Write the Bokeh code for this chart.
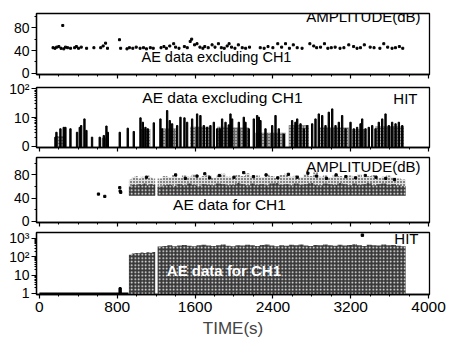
from bokeh.embed import file_html
from bokeh.layouts import column
from bokeh.models import FixedTicker, Label, Range1d, SingleIntervalTicker
from bokeh.plotting import figure
from bokeh.resources import INLINE

FONT = "Liberation Sans"

# ---- AE data excluding CH1: amplitude (dB) of individual hits ----
ex_amp_t = [240,
            140, 160, 178, 200, 222, 250, 268, 290, 320, 362, 380, 402, 430, 485, 560,
            630, 655, 680, 700,
            823, 835, 900, 925, 960, 995, 1035, 1070, 1100, 1140, 1170,
            1250, 1280, 1305, 1340, 1380, 1400, 1435, 1490, 1520, 1550, 1565, 1595,
            1620, 1650, 1680, 1700, 1735, 1775, 1805, 1840, 1870, 1900, 1930,
            1950, 1975, 2010, 2045, 2085, 2120, 2160, 2270, 2310, 2350, 2400, 2450,
            2490, 2530, 2570, 2610, 2650, 2700,
            2780, 2820, 2850, 2890, 2930, 2965, 3000, 3040, 3090, 3130, 3180, 3230,
            3265, 3300, 3340, 3400, 3440, 3500, 3540, 3580, 3625, 3660, 3700, 3735]
ex_amp_db = [84,
             45, 44, 46, 47, 44, 43, 46, 45, 44, 45, 47, 44, 46, 44, 45,
             45, 48, 53, 44,
             59, 44, 43, 45, 44, 46, 44, 45, 43, 45, 44,
             45, 47, 44, 48, 52, 46, 44, 47, 45, 56, 60, 50,
             52, 46, 44, 47, 45, 50, 46, 52, 45, 44, 48,
             52, 46, 44, 50, 45, 44, 46, 45, 44, 47, 45, 52,
             46, 52, 44, 50, 45, 44,
             52, 48, 45, 46, 52, 44, 45, 46, 44, 45, 50, 47,
             44, 45, 50, 46, 45, 44, 52, 46, 44, 45, 47, 44]

# ---- AE data excluding CH1: hit counts ----
ex_hit_t = [165, 175, 216, 250, 267, 319, 387, 415, 429, 463, 483, 541, 620, 662,
            689, 703, 826, 908, 970, 1039, 1063, 1090, 1114, 1176, 1244, 1261, 1313,
            1340, 1364, 1416, 1450, 1491, 1518, 1570, 1621, 1655, 1690, 1724, 1758,
            1793, 1827, 1854, 1878, 1913, 1947, 1964, 1981, 2050, 2101, 2118, 2152,
            2204, 2238, 2255, 2272, 2324, 2393, 2427, 2461, 2512, 2598, 2632, 2650,
            2684, 2718, 2752, 2804, 2838, 2872, 2907, 2941, 2975, 3010, 3044, 3078,
            3112, 3147, 3198, 3232, 3266, 3301, 3318, 3352, 3386, 3421, 3455, 3489,
            3524, 3558, 3592, 3626, 3661, 3695, 3730]
ex_hit_n = [2.1, 3.1, 4.1, 4.6, 4.6, 4.1, 3.1, 4.6, 5.3, 9.0, 3.6, 2.1, 2.1, 2.4,
            5.1, 3.1, 3.1, 4.3, 3.3, 9.8, 6.9, 4.6, 4.1, 6.6, 9.0, 4.1, 17.5,
            7.9, 6.1, 5.3, 10.3, 9.8, 6.9, 9.0, 13.4, 11.8, 5.3, 4.6, 5.3,
            6.9, 4.1, 4.1, 9.0, 6.9, 5.6, 13.4, 9.0, 6.9, 10.3, 6.9, 4.1,
            9.0, 11.8, 10.3, 7.9, 4.1, 5.3, 11.8, 4.1, 2.7, 7.9, 6.9, 9.0,
            6.1, 4.1, 5.3, 6.1, 9.0, 13.4, 11.8, 5.3, 15.4, 20.0, 5.3, 6.9,
            11.8, 4.1, 6.9, 4.1, 4.6, 6.1, 9.0, 4.1, 4.6, 5.3, 4.1, 6.9,
            9.0, 13.4, 5.3, 6.9, 6.1, 6.9, 5.3]
# dense stretches of low-count hits
ex_cloud_start = [165, 640, 1039, 1260, 1550, 1827, 1913, 2220, 2563, 2872, 3215, 3455]
ex_cloud_end = [267, 710, 1140, 1416, 1760, 1913, 2152, 2530, 2770, 3180, 3352, 3747]
ex_cloud_n = [2.3, 2.0, 4.0, 4.2, 4.8, 4.8, 4.5, 3.0, 5.4, 4.5, 4.0, 5.0]

# ---- AE data for CH1 (binned) ----
ch1_t1 = [935, 965, 995, 1025, 1055, 1085, 1115, 1145, 1175]
ch1_t2 = [1240, 1290, 1340, 1390, 1440, 1490, 1540, 1590, 1640, 1690, 1740, 1790,
          1840, 1890, 1940, 1990, 2040, 2090, 2140, 2190, 2240, 2290, 2340, 2390,
          2440, 2490, 2540, 2590, 2640, 2690, 2740, 2790, 2840, 2890, 2940, 2990,
          3040, 3090, 3140, 3190, 3240, 3290, 3340, 3390, 3440, 3490, 3540, 3590,
          3640, 3690, 3740]
ch1_hit1 = [130, 150, 160, 155, 170, 160, 175, 165, 180]
ch1_hit2 = [360, 390, 420, 380, 410, 440, 400, 370, 430, 450,
            410, 390, 420, 460, 400, 380, 430, 410, 450, 420,
            390, 440, 470, 410, 380, 430, 400, 450, 420, 460,
            410, 390, 440, 420, 470, 430, 400, 450, 410, 440,
            480, 420, 390, 450, 430, 410, 460, 420, 440, 400, 380]
ch1_amp_low = 44
ch1_dense1 = [60, 63, 62, 64, 63, 65, 62, 64, 63]
ch1_dense2 = [60, 62, 63, 61, 64, 62, 65, 63, 61, 64,
              63, 62, 65, 64, 62, 63, 66, 64, 62, 65,
              63, 64, 62, 65, 66, 63, 64, 62, 65, 63,
              64, 66, 63, 62, 65, 64, 63, 66, 64, 62,
              65, 63, 64, 66, 62, 64, 65, 63, 64, 62, 61]
ch1_sparse1 = [72, 76, 78, 74, 77, 75, 79, 76, 74]
ch1_sparse2 = [74, 78, 76, 80, 75, 79, 77, 81, 76, 78,
               80, 75, 79, 82, 77, 76, 80, 78, 83, 77,
               79, 76, 81, 78, 75, 80, 82, 77, 79, 76,
               81, 78, 84, 77, 79, 76, 80, 78, 75, 79,
               77, 81, 76, 78, 80, 75, 77, 79, 76, 74, 72]
ch1_pts_t = [607, 672, 826, 830, 836, 1100, 1400, 1500, 1620, 1700, 1750, 1850, 2000,
             2100, 2200, 2330, 2450, 2560, 2650, 2760, 2850, 2950, 3050, 3150, 3250,
             3350, 3460, 3560, 3650]
ch1_pts_db = [47, 43, 58, 52, 50, 76, 80, 74, 78, 82, 75, 79, 76,
              84, 77, 80, 75, 81, 76, 83, 78, 74, 80, 77, 75,
              79, 76, 74, 72]
ch1_pre_t = [0, 150, 300, 450, 600, 750, 815, 830, 845, 915]
ch1_pre_n = [1, 1, 1, 1, 1, 1, 1, 2, 1, 1]
ch1_stray_t = [3320]
ch1_stray_n = [1500]

BIN1, BIN2 = 30, 50
DARK = "#383838"

x_range = Range1d(-30, 4010)


def step_edges(centers, vals, width):
    xs = [c - width / 2 for c in centers] + [centers[-1] + width / 2]
    ys = list(vals) + [vals[-1]]
    return xs, ys


def make_panel(height, top, bottom, y_range, y_type="linear", last=False):
    p = figure(width=449, height=height, x_range=x_range, y_range=Range1d(*y_range),
               y_axis_type=y_type, output_backend="svg", toolbar_location=None,
               min_border_left=36, min_border_right=20,
               min_border_top=top, min_border_bottom=bottom)
    p.grid.visible = False
    p.outline_line_color = "black"
    p.outline_line_width = 1.3
    p.xaxis.ticker = SingleIntervalTicker(interval=800, num_minor_ticks=4)
    for ax in p.xaxis + p.yaxis:
        ax.axis_line_color = "black"
        ax.axis_line_width = 1.3
        ax.major_tick_line_width = 1.2
        ax.major_tick_in = 0
        ax.minor_tick_in = 0
        ax.major_label_text_font = FONT
        ax.major_label_text_color = "black"
    p.xaxis.major_tick_out = 4
    p.xaxis.minor_tick_out = 2
    p.yaxis.major_tick_out = 5
    p.yaxis.minor_tick_out = 2
    p.yaxis.major_label_standoff = 2
    p.yaxis.major_label_text_font_size = "14px"
    if last:
        p.xaxis.major_label_text_font_size = "15.5px"
        p.xaxis.major_label_standoff = 3
        p.xaxis.axis_label = "TIME(s)"
        p.xaxis.axis_label_text_font = FONT
        p.xaxis.axis_label_text_font_style = "normal"
        p.xaxis.axis_label_text_font_size = "17px"
        p.xaxis.axis_label_standoff = 4
    else:
        # tick marks only, the time labels sit on the bottom panel
        p.xaxis.major_label_text_color = None
        p.xaxis.major_label_text_font_size = "1px"
        p.xaxis.major_label_standoff = 0
    return p


def add_label(p, x, y, text, align="center", size="15px", color="black", style="normal"):
    p.add_layout(Label(x=x, y=y, text=text, text_align=align, text_baseline="middle",
                       text_font=FONT, text_font_size=size, text_color=color,
                       text_font_style=style))


# Panel 1: amplitude, excluding CH1
p1 = make_panel(80, 13, 6, (-2, 105))
p1.yaxis.ticker = FixedTicker(ticks=[0, 40, 80], minor_ticks=[20, 60, 100])
p1.scatter(ex_amp_t, ex_amp_db, marker="square", size=2.0, color="black")
add_label(p1, 3918, 100, "AMPLITUDE(dB)", align="right")
add_label(p1, 1820, 28, "AE data excluding CH1", size="14.5px")

# Panel 2: hit counts, excluding CH1
p2 = make_panel(73, 7, 6, (0.92, 110), y_type="log")
p2.yaxis.ticker = FixedTicker(ticks=[1, 10, 100],
                              minor_ticks=[2, 3, 4, 5, 6, 7, 8, 9, 20, 30, 40, 50, 60, 70, 80, 90])
p2.yaxis.major_label_overrides = {1: "0", 10: "10", 100: "10²"}
p2.quad(left=ex_cloud_start, right=ex_cloud_end, bottom=0.92, top=ex_cloud_n,
        fill_color="#6a6a6a", line_color=None,
        hatch_pattern="dot", hatch_color="white", hatch_scale=3, hatch_weight=1.2)
p2.vbar(x=ex_hit_t, top=ex_hit_n, bottom=0.92, width=14, color="black")
add_label(p2, 1882, 49, "AE data excluding CH1", size="15.5px")
add_label(p2, 3887, 46, "HIT", align="right")

# Panel 3: amplitude, CH1
p3 = make_panel(75, 4, 6, (-2, 110))
p3.yaxis.ticker = FixedTicker(ticks=[0, 40, 80], minor_ticks=[20, 60, 100])
for cs, sparse, dense, w in ((ch1_t1, ch1_sparse1, ch1_dense1, BIN1),
                             (ch1_t2, ch1_sparse2, ch1_dense2, BIN2)):
    xs, ys = step_edges(cs, sparse, w)
    p3.varea_step(x=xs, y1=ch1_amp_low, y2=ys, step_mode="after",
                  fill_color="#9a9a9a", fill_alpha=0.3,
                  hatch_pattern="dot", hatch_color="black", hatch_scale=3, hatch_weight=1.2)
    xs, ys = step_edges(cs, dense, w)
    p3.varea_step(x=xs, y1=ch1_amp_low, y2=ys, step_mode="after", fill_color=DARK,
                  hatch_pattern="dot", hatch_color="white", hatch_scale=3.5, hatch_weight=1.0)
p3.scatter(ch1_pts_t, ch1_pts_db, marker="square", size=2.2, color="black")
add_label(p3, 3918, 94.5, "AMPLITUDE(dB)", align="right")
add_label(p3, 1954, 29, "AE data for CH1", size="15.5px")

# Panel 4: hit counts, CH1
p4 = make_panel(116, 4, 50, (0.88, 2100), y_type="log", last=True)
p4.yaxis.ticker = FixedTicker(ticks=[1, 10, 100, 1000],
                              minor_ticks=[2, 3, 4, 5, 6, 7, 8, 9, 20, 30, 40, 50, 60, 70, 80, 90,
                                           200, 300, 400, 500, 600, 700, 800, 900])
p4.yaxis.major_label_overrides = {1: "1", 10: "10", 100: "10²", 1000: "10³"}
p4.step(ch1_pre_t, ch1_pre_n, mode="center", line_color="black", line_width=2)
for cs, hits, w in ((ch1_t1, ch1_hit1, BIN1), (ch1_t2, ch1_hit2, BIN2)):
    xs, ys = step_edges(cs, hits, w)
    p4.varea_step(x=xs, y1=0.88, y2=ys, step_mode="after", fill_color=DARK,
                  hatch_pattern="dot", hatch_color="white", hatch_scale=3.5, hatch_weight=1.0)
p4.scatter(ch1_stray_t, ch1_stray_n, marker="square", size=2.4, color="black")
add_label(p4, 3897, 992, "HIT", align="right")
add_label(p4, 1897, 17.9, "AE data for CH1", color="white", style="bold")

layout = column(p1, p2, p3, p4, spacing=0)
open("out.html", "w").write(file_html(layout, INLINE))
